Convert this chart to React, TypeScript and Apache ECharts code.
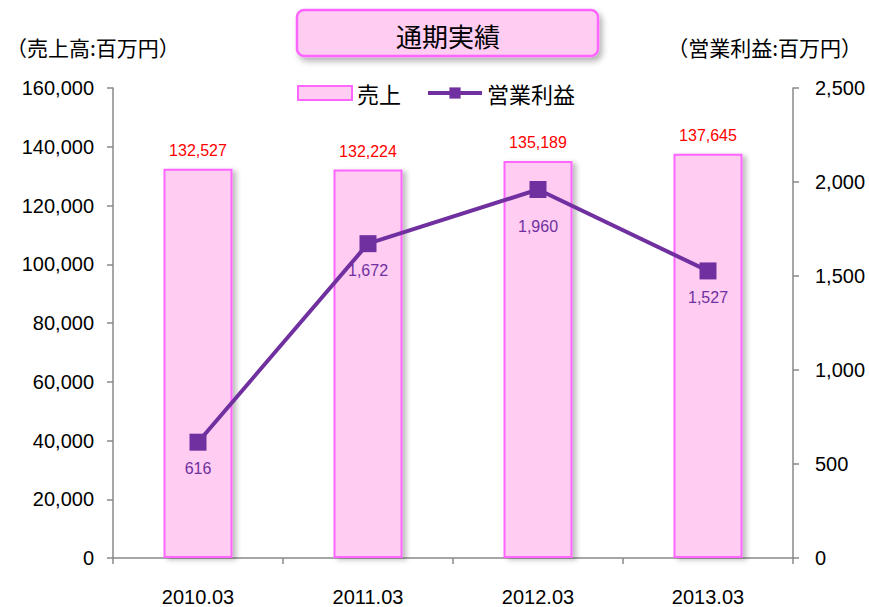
import React, { useEffect, useRef } from "react";
import * as echarts from "echarts";

const categories = ["2010.03", "2011.03", "2012.03", "2013.03"];
const salesValues = [132527, 132224, 135189, 137645];
const profitValues = [616, 1672, 1960, 1527];
const leftTicks = [0, 20000, 40000, 60000, 80000, 100000, 120000, 140000, 160000];
const rightTicks = [0, 500, 1000, 1500, 2000, 2500];
const profitLabelGap = [10, 10, 20, 10];

const fmt = (v: number) => v.toLocaleString("en-US");
const FONT = "'Liberation Sans', 'Noto Sans CJK JP', sans-serif";
const JFONT = "'Noto Sans CJK JP', sans-serif";

export default function App() {
  const ref = useRef<HTMLDivElement>(null);
  useEffect(() => {
    const chart = echarts.init(ref.current!, null, { renderer: "svg" });
    chart.setOption({
      animation: false,
      backgroundColor: "#ffffff",
      textStyle: { fontFamily: FONT },
      grid: { left: 113, right: 76, top: 88, bottom: 48, containLabel: false },
      graphic: [
        {
          type: "rect",
          shape: { x: 297, y: 10, width: 301, height: 46, r: 7 },
          style: {
            fill: "#FFCCF2",
            stroke: "#FF66FF",
            lineWidth: 2.5,
            shadowBlur: 6,
            shadowOffsetX: 3,
            shadowOffsetY: 4,
            shadowColor: "rgba(0,0,0,0.3)",
          },
        },
        {
          type: "text",
          x: 448,
          y: 35,
          style: {
            text: "通期実績",
            font: `26px ${JFONT}`,
            fill: "#000",
            textAlign: "center",
            textVerticalAlign: "middle",
          },
        },
        {
          type: "text",
          x: 6,
          y: 47,
          style: {
            text: "（売上高:百万円）",
            font: `21px ${JFONT}`,
            fill: "#000",
            textVerticalAlign: "middle",
          },
        },
        {
          type: "text",
          x: 862,
          y: 47,
          style: {
            text: "（営業利益:百万円）",
            font: `21px ${JFONT}`,
            fill: "#000",
            textAlign: "right",
            textVerticalAlign: "middle",
          },
        },
      ],
      legend: {
        top: 82,
        left: 297,
        padding: 0,
        itemGap: 25,
        itemWidth: 54,
        itemHeight: 14,
        textStyle: { fontFamily: JFONT, fontSize: 22, color: "#000" },
        data: [
          { name: "売上", icon: "rect", itemStyle: { color: "#FFCCF2", borderColor: "#FF66FF", borderWidth: 2 } },
          { name: "営業利益", lineStyle: { width: 4, color: "#7030A0" } },
        ],
      },
      xAxis: {
        type: "category",
        data: categories,
        axisLine: { lineStyle: { color: "#888", width: 1.5 } },
        axisTick: { show: true, length: 6, lineStyle: { color: "#888", width: 1.5 } },
        axisLabel: { fontSize: 20, color: "#000", margin: 29, fontFamily: FONT },
      },
      yAxis: [
        {
          type: "value",
          min: 0,
          max: 160000,
          interval: 20000,
          splitLine: { show: false },
          axisLine: { show: true, lineStyle: { color: "#888", width: 1.5 } },
          axisTick: { show: true, length: 6, lineStyle: { color: "#888", width: 1.5 } },
          axisLabel: { fontSize: 20, color: "#000", margin: 19, formatter: (v: number) => fmt(v) },
        },
        {
          type: "value",
          min: 0,
          max: 2500,
          interval: 500,
          splitLine: { show: false },
          axisLine: { show: true, lineStyle: { color: "#888", width: 1.5 } },
          axisTick: { show: true, length: 6, lineStyle: { color: "#888", width: 1.5 } },
          axisLabel: { fontSize: 20, color: "#000", margin: 22, formatter: (v: number) => fmt(v) },
        },
      ],
      series: [
        {
          name: "売上",
          type: "bar",
          yAxisIndex: 0,
          barWidth: 69,
          data: salesValues,
          itemStyle: {
            color: "#FFCCF2",
            borderColor: "#FF66FF",
            borderWidth: 2,
            shadowBlur: 5,
            shadowOffsetX: 4,
            shadowOffsetY: 2,
            shadowColor: "rgba(0,0,0,0.25)",
          },
          label: {
            show: true,
            position: "top",
            distance: 10,
            color: "#FF0000",
            fontSize: 16,
            formatter: (p: any) => fmt(p.value),
          },
        },
        {
          name: "営業利益",
          type: "line",
          yAxisIndex: 1,
          data: profitValues.map((v, i) => ({
            value: v,
            label: { distance: profitLabelGap[i] },
          })),
          symbol: "rect",
          symbolSize: 17,
          lineStyle: { color: "#7030A0", width: 4 },
          itemStyle: { color: "#7030A0" },
          label: {
            show: true,
            position: "bottom",
            distance: 10,
            color: "#7030A0",
            fontSize: 16,
            formatter: (p: any) => fmt(p.value),
          },
        },
      ],
    });
    return () => chart.dispose();
  }, []);
  return <div ref={ref} style={{ width: 869, height: 607, position: "absolute", left: 0, top: 0 }} />;
}
